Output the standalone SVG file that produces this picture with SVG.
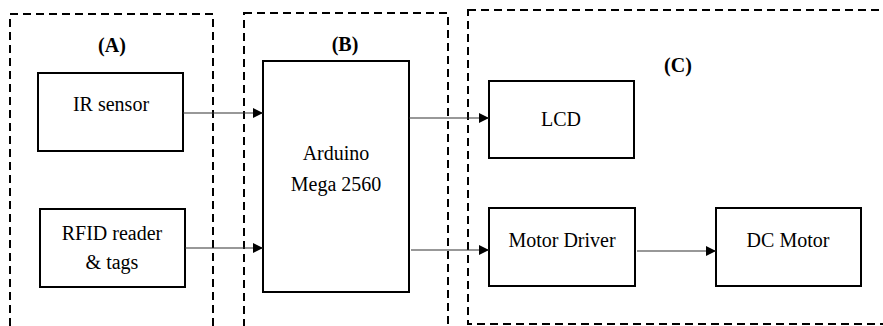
<svg xmlns="http://www.w3.org/2000/svg" width="883" height="326" viewBox="0 0 883 326">
<style>
.grp{fill:none;stroke:#000;stroke-width:2;stroke-dasharray:8 5}
.node{fill:#fff;stroke:#000;stroke-width:2}
text{font-family:'Liberation Serif','Times New Roman','DejaVu Serif',serif;font-size:20px;fill:#000;text-anchor:middle}
.b{font-weight:bold}
.c{stroke:#333;stroke-width:1.2;fill:none;marker-end:url(#ah)}
</style>
<defs>
<marker id="ah" markerWidth="11" markerHeight="11" refX="10" refY="5" orient="auto" markerUnits="userSpaceOnUse">
<path d="M0,0 L10,5 L0,10 Z" fill="#000"/>
</marker>
</defs>
<rect width="883" height="326" fill="#fff"/>
<g id="groupA">
<rect class="grp" x="10" y="14" width="203" height="330"/>
<text class="b" x="112" y="52" font-family="Liberation Serif, serif">(A)</text>
</g>
<g id="groupB">
<rect class="grp" x="244" y="13" width="204" height="330"/>
<text class="b" x="345" y="51" font-family="Liberation Serif, serif">(B)</text>
</g>
<g id="groupC">
<rect class="grp" x="468" y="10" width="430" height="314"/>
<text class="b" x="678" y="72" font-family="Liberation Serif, serif">(C)</text>
</g>
<g id="ir">
<rect class="node" x="38" y="73" width="145" height="78"/>
<text x="111" y="111" font-family="Liberation Serif, serif">IR sensor</text>
</g>
<g id="rfid">
<rect class="node" x="40" y="209" width="145" height="78"/>
<text x="112" y="240" font-family="Liberation Serif, serif">RFID reader</text>
<text x="112" y="269" font-family="Liberation Serif, serif">&amp; tags</text>
</g>
<g id="arduino">
<rect class="node" x="263" y="61" width="146" height="231"/>
<text x="336" y="160" font-family="Liberation Serif, serif">Arduino</text>
<text x="336" y="191" font-family="Liberation Serif, serif">Mega 2560</text>
</g>
<g id="lcd">
<rect class="node" x="489" y="81" width="145" height="77"/>
<text x="561" y="126" font-family="Liberation Serif, serif">LCD</text>
</g>
<g id="motordriver">
<rect class="node" x="489" y="208" width="146" height="78"/>
<text x="562" y="247" font-family="Liberation Serif, serif">Motor Driver</text>
</g>
<g id="dcmotor">
<rect class="node" x="716" y="208" width="145" height="78"/>
<text x="788" y="247" font-family="Liberation Serif, serif">DC Motor</text>
</g>
<g id="connectors">
<line class="c" x1="183" y1="113" x2="263" y2="113"/>
<line class="c" x1="185" y1="248" x2="263" y2="248"/>
<line class="c" x1="409" y1="118" x2="489" y2="118"/>
<line class="c" x1="411" y1="250" x2="489" y2="250"/>
<line class="c" x1="637" y1="251" x2="716" y2="251"/>
</g>
</svg>
